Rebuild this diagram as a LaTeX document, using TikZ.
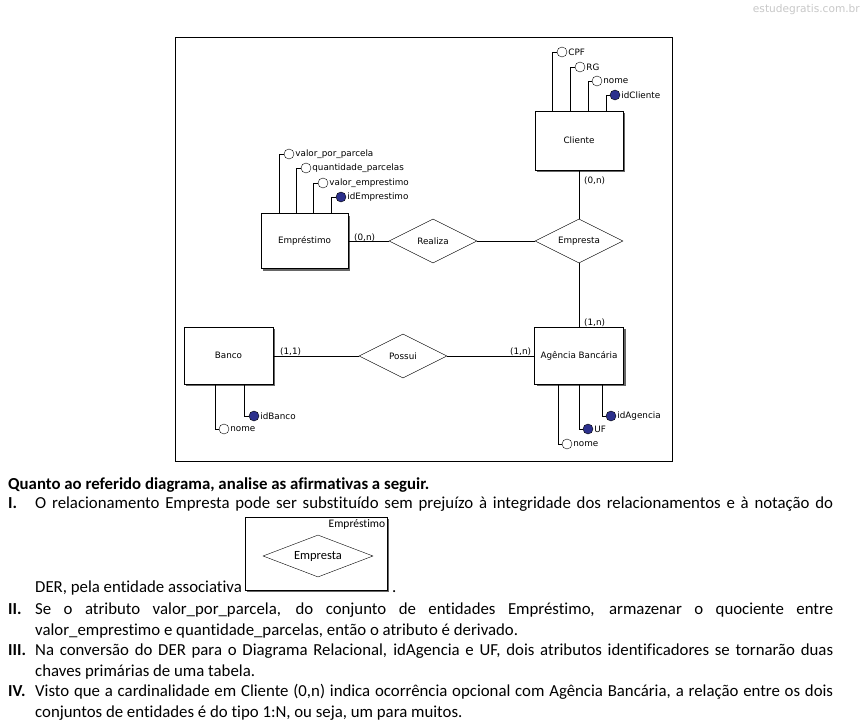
\documentclass[tikz,border=0pt]{standalone}
\usepackage{fontspec}
\setmainfont{Carlito}[Ligatures={NoCommon}]
\newfontfamily\dgfont{DejaVu Sans}
\usetikzlibrary{shapes.geometric,shadows}
\definecolor{keyblue}{RGB}{44,48,140}
\definecolor{wmgray}{RGB}{200,200,200}
\newcommand{\dgf}{\dgfont\fontsize{8.8}{10}\selectfont}
\newcommand{\txf}{\fontsize{16.8}{19}\selectfont}
\begin{document}
\begin{tikzpicture}[x=1pt,y=-1pt,
  ent/.style={draw, fill=white, inner sep=0, font=\dgf,
    drop shadow={shadow xshift=2pt, shadow yshift=-2pt, fill=black!60, opacity=1}},
  rel/.style={draw, fill=white, diamond, aspect=2, inner sep=0,
    minimum width=88pt, minimum height=44pt, font=\dgf},
  att/.style={circle, draw, fill=white, minimum size=10pt, inner sep=0},
  keyatt/.style={att, fill=keyblue},
  alab/.style={right, inner sep=1pt, font=\dgf},
  card/.style={inner sep=0, font=\dgf},
  conn/.style={draw, line width=0.8pt},
  txt/.style={anchor=base west, inner sep=0, font=\txf},
  num/.style={anchor=base west, inner sep=0, font=\txf\bfseries}
]
\useasboundingbox (0,0) rectangle (865,725);
\fill[white] (0,0) rectangle (865,725);

% watermark
\node[anchor=east, inner sep=0, text=wmgray, font=\dgfont\fontsize{10.6}{12}\selectfont] (wm) at (860,10) {estudegratis.com.br};

% frame
\node[draw, line width=0.8pt, minimum width=497pt, minimum height=424pt, anchor=north west, inner sep=0] (frame) at (175,37) {};

% entities
\node[ent, minimum width=88pt, minimum height=59pt] (cli) at (579,140.5) {Cliente};
\node[ent, minimum width=87pt, minimum height=55pt] (emp) at (304.5,241) {Empréstimo};
\node[ent, minimum width=89pt, minimum height=57pt] (ag) at (579,355.5) {Agência Bancária};
\node[ent, minimum width=89pt, minimum height=57pt] (ban) at (228.5,355.5) {Banco};

% relationships
\node[rel] (rea) at (433,241) {Realiza};
\node[rel] (emr) at (579,241) {Empresta};
\node[rel] (pos) at (403,356) {Possui};

% connectors
\draw[conn] (emp.east) -- (rea.west);
\draw[conn] (rea.east) -- (emr.west);
\draw[conn] (cli.south) -- (emr.north);
\draw[conn] (emr.south) -- (ag.north);
\draw[conn] (ban.east |- pos.west) -- (pos.west);
\draw[conn] (pos.east) -- (ag.west |- pos.east);

% cardinalities
\node[card, anchor=base west] (c1) at (354,240) {(0,n)};
\node[card, anchor=base west] (c2) at (584,183) {(0,n)};
\node[card, anchor=base west] (c3) at (584,325) {(1,n)};
\node[card, anchor=base west] (c4) at (280,354) {(1,1)};
\node[card, anchor=base west] (c5) at (510,354) {(1,n)};

% Cliente attributes
\node[att] (cpf) at (562,52) {};
\node[att] (rg) at (580,67) {};
\node[att] (cnome) at (597,81) {};
\node[keyatt] (idc) at (615,95) {};
\draw[conn] (cli.north -| 552,0) |- (cpf.west);
\draw[conn] (cli.north -| 570,0) |- (rg.west);
\draw[conn] (cli.north -| 588,0) |- (cnome.west);
\draw[conn] (cli.north -| 606,0) |- (idc.west);
\node[alab] at (cpf.east) {CPF};
\node[alab] at (rg.east) {RG};
\node[alab] at (cnome.east) {nome};
\node[alab] at (idc.east) {idCliente};

% Emprestimo attributes
\node[att] (vpp) at (289,154) {};
\node[att] (qp) at (306,168) {};
\node[att] (ve) at (323,183) {};
\node[keyatt] (ide) at (341,197) {};
\draw[conn] (emp.north -| 279,0) |- (vpp.west);
\draw[conn] (emp.north -| 296,0) |- (qp.west);
\draw[conn] (emp.north -| 313,0) |- (ve.west);
\draw[conn] (emp.north -| 331,0) |- (ide.west);
\node[alab] at (vpp.east) {valor\_por\_parcela};
\node[alab] at (qp.east) {quantidade\_parcelas};
\node[alab] at (ve.east) {valor\_emprestimo};
\node[alab] at (ide.east) {idEmprestimo};

% Agencia attributes
\node[att] (anome) at (567,444) {};
\node[keyatt] (uf) at (588,429) {};
\node[keyatt] (ida) at (611,416) {};
\draw[conn] (ag.south -| 558,0) |- (anome.west);
\draw[conn] (ag.south -| 579,0) |- (uf.west);
\draw[conn] (ag.south -| 602,0) |- (ida.west);
\node[alab] at (anome.east) {nome};
\node[alab] at (uf.east) {UF};
\node[alab] at (ida.east) {idAgencia};

% Banco attributes
\node[att] (bnome) at (224,429) {};
\node[keyatt] (idb) at (254,416) {};
\draw[conn] (ban.south -| 215,0) |- (bnome.west);
\draw[conn] (ban.south -| 244,0) |- (idb.west);
\node[alab] at (bnome.east) {nome};
\node[alab] at (idb.east) {idBanco};

% text
\node[num] (q) at (8,489) {Quanto ao referido diagrama, analise as afirmativas a seguir.};
\node[num] (n1) at (8,508) {I.};
\node[txt] (t1) at (35,508) {\makebox[798pt][s]{O relacionamento Empresta pode ser substituído sem prejuízo à integridade dos relacionamentos e à notação do}};
\node[txt] (t1b) at (35,592) {DER, pela entidade associativa};
\node[txt] (t1c) at (392,592) {.};
\node[draw, fill=white, minimum width=142pt, minimum height=73pt, anchor=north west, inner sep=0,
  drop shadow={shadow xshift=2pt, shadow yshift=-2pt, fill=black!60, opacity=1}] (ibox) at (245,517) {};
\node[anchor=north east, inner sep=2pt, font=\fontsize{11.5}{12}\selectfont] (ilab) at (ibox.north east) {Empréstimo};
\node[draw, diamond, aspect=2.6, inner sep=0, minimum width=110pt, minimum height=42pt, font=\fontsize{12.5}{13}\selectfont] (idia) at (318,556) {Empresta};

\node[num] (n2) at (8,614) {II.};
\node[txt] (t2) at (35,614) {\makebox[798pt][s]{Se o atributo valor\_por\_parcela, do conjunto de entidades Empréstimo, armazenar o quociente entre}};
\node[txt] (t2b) at (35,635) {valor\_emprestimo e quantidade\_parcelas, então o atributo é derivado.};
\node[num] (n3) at (8,655) {III.};
\node[txt] (t3) at (35,655) {\makebox[798pt][s]{Na conversão do DER para o Diagrama Relacional, idAgencia e UF, dois atributos identificadores se tornarão duas}};
\node[txt] (t3b) at (35,676) {chaves primárias de uma tabela.};
\node[num] (n4) at (8,696) {IV.};
\node[txt] (t4) at (35,696) {\makebox[798pt][s]{Visto que a cardinalidade em Cliente (0,n) indica ocorrência opcional com Agência Bancária, a relação entre os dois}};
\node[txt] (t4b) at (35,717) {conjuntos de entidades é do tipo 1:N, ou seja, um para muitos.};
\end{tikzpicture}
\end{document}
